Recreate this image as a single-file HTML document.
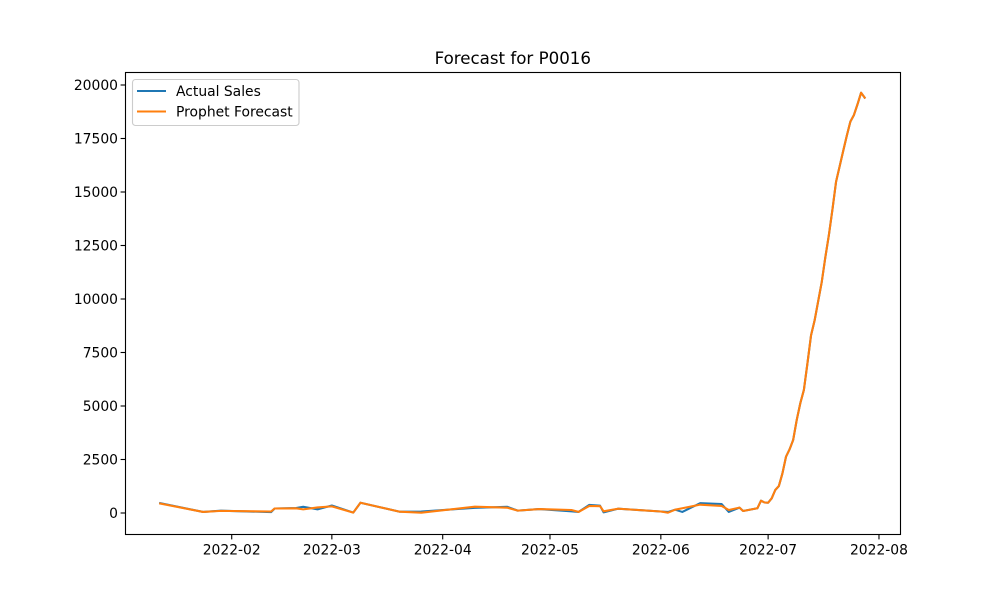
<!DOCTYPE html>
<html lang="en">
<head>
<meta charset="utf-8">
<title>Forecast for P0016</title>
<style>
  html, body { margin: 0; padding: 0; background: #fff; }
  svg { display: block; font-family: "DejaVu Sans", "Liberation Sans", sans-serif; }
</style>
</head>
<body>
<svg id="chart" xmlns="http://www.w3.org/2000/svg" width="1000" height="600" viewBox="0 0 1000 600">
  <rect width="1000" height="600" fill="#ffffff"/>
  <text x="512.8" y="64" font-size="16.67" text-anchor="middle" fill="#000">Forecast for P0016</text>
  <g id="series"></g>
  <g id="axes"></g>
  <rect x="125.5" y="72.5" width="775" height="462" fill="none" stroke="#000" stroke-width="1.11"/>
  <g>
    <rect x="132.5" y="79.5" width="166.5" height="46" rx="3" fill="#ffffff" fill-opacity="0.8" stroke="#cccccc" stroke-width="1.11"/>
    <line x1="137" y1="91" x2="166" y2="91" stroke="#1f77b4" stroke-width="2.08"/>
    <text x="176" y="96" font-size="13.89" fill="#000">Actual Sales</text>
    <line x1="137" y1="111.5" x2="166" y2="111.5" stroke="#ff7f0e" stroke-width="2.08"/>
    <text x="176" y="116.5" font-size="13.89" fill="#000">Prophet Forecast</text>
  </g>
</svg>
<script>
const dates = ['2022-01-12','2022-01-24','2022-01-29','2022-02-12','2022-02-13','2022-02-19','2022-02-21','2022-02-25','2022-03-01','2022-03-07','2022-03-09','2022-03-20','2022-03-26','2022-04-10','2022-04-19','2022-04-22','2022-04-28','2022-05-07','2022-05-09','2022-05-12','2022-05-15','2022-05-16','2022-05-20','2022-06-01','2022-06-03','2022-06-05','2022-06-07','2022-06-12','2022-06-18','2022-06-20','2022-06-23','2022-06-24','2022-06-28','2022-06-29','2022-06-30','2022-07-01','2022-07-02','2022-07-03','2022-07-04','2022-07-05','2022-07-06','2022-07-07','2022-07-08','2022-07-09','2022-07-10','2022-07-11','2022-07-12','2022-07-13','2022-07-14','2022-07-15','2022-07-16','2022-07-17','2022-07-18','2022-07-19','2022-07-20','2022-07-21','2022-07-22','2022-07-23','2022-07-24','2022-07-25','2022-07-26','2022-07-27','2022-07-28'];
const actualSales = [460,50,110,40,210,230,290,170,350,20,480,60,70,240,290,110,185,80,50,380,340,30,200,70,50,155,50,460,420,50,250,95,220,575,490,480,685,1075,1260,1850,2630,2975,3410,4350,5130,5750,7000,8300,9000,9900,10800,11950,13000,14200,15480,16200,16920,17630,18290,18600,19100,19640,19410];
const prophetForecast = [440,50,100,70,210,220,170,260,310,20,480,60,15,295,250,110,185,140,50,330,320,80,200,70,15,155,220,390,330,140,250,95,220,575,490,480,685,1075,1260,1850,2630,2975,3410,4350,5130,5750,7000,8300,9000,9900,10800,11950,13000,14200,15480,16200,16920,17630,18290,18600,19100,19640,19410];
const xTickDates = ['2022-02-01','2022-03-01','2022-04-01','2022-05-01','2022-06-01','2022-07-01','2022-08-01'];
const xTickLabels = ['2022-02','2022-03','2022-04','2022-05','2022-06','2022-07','2022-08'];
const yTicks = [0,2500,5000,7500,10000,12500,15000,17500,20000];

const NS = 'http://www.w3.org/2000/svg';
const DAY = 86400000;
const X_ORIGIN = Date.parse('2022-01-12');
function xScale(dateStr) {
  return 160.2 + (Date.parse(dateStr) - X_ORIGIN) / DAY * 3.576;
}
function yScale(value) {
  return 513 - value * 0.0214;
}
function make(tag, attrs, parent) {
  const el = document.createElementNS(NS, tag);
  for (const key in attrs) el.setAttribute(key, attrs[key]);
  parent.appendChild(el);
  return el;
}
const axes = document.getElementById('axes');
const series = document.getElementById('series');

function drawSeries(values, color, name) {
  const pts = values.map(function (v, i) {
    return xScale(dates[i]).toFixed(2) + ',' + yScale(v).toFixed(2);
  }).join(' ');
  const line = make('polyline', { points: pts, fill: 'none', stroke: color, 'stroke-width': 2.08, 'stroke-linejoin': 'round', 'stroke-linecap': 'square' }, series);
  
  
}
drawSeries(actualSales, '#1f77b4', 'actual-sales-line');
drawSeries(prophetForecast, '#ff7f0e', 'prophet-forecast-line');

xTickDates.forEach(function (d, i) {
  const x = xScale(d);
  const tick = make('line', { x1: x, x2: x, y1: 534.5, y2: 539.4, stroke: '#000', 'stroke-width': 1.11 }, axes);
  
  
  const label = make('text', { x: x, y: 554.5, 'font-size': 13.89, 'text-anchor': 'middle', fill: '#000' }, axes);
  label.textContent = xTickLabels[i];
  
  
});
yTicks.forEach(function (v) {
  const y = yScale(v);
  const tick = make('line', { x1: 120.6, x2: 125.5, y1: y, y2: y, stroke: '#000', 'stroke-width': 1.11 }, axes);
  
  
  const label = make('text', { x: 118, y: y + 5, 'font-size': 13.89, 'text-anchor': 'end', fill: '#000' }, axes);
  label.textContent = String(v);
  
  
});
</script>
</body>
</html>
